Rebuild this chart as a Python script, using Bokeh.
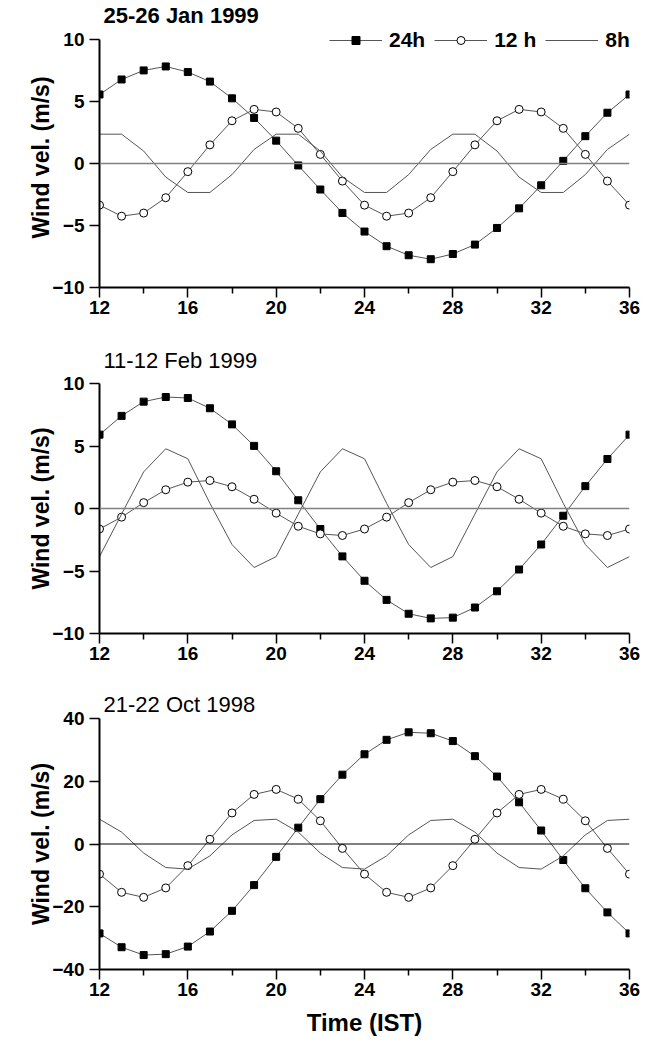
from bokeh.plotting import figure
from bokeh.layouts import column
from bokeh.models import Range1d, FixedTicker, Span, Legend, LegendItem
from bokeh.embed import file_html
from bokeh.resources import INLINE

hours = list(range(12, 37))

jan_title = "25-26 Jan 1999"
jan_24h = [5.56, 6.77, 7.50, 7.82, 7.37, 6.60, 5.25, 3.67, 1.84, -0.16, -2.10, -3.99, -5.49,
           -6.67, -7.40, -7.72, -7.30, -6.54, -5.20, -3.62, -1.76, 0.21, 2.20, 4.09, 5.56]
jan_12h = [-3.36, -4.25, -4.00, -2.76, -0.66, 1.50, 3.44, 4.36, 4.15, 2.83, 0.73, -1.42, -3.36,
           -4.25, -4.00, -2.76, -0.66, 1.50, 3.44, 4.36, 4.15, 2.83, 0.73, -1.42, -3.36]
jan_8h = [2.36, 2.36, 1.00, -1.10, -2.34, -2.34, -0.90, 1.13, 2.36, 2.36, 1.00, -1.10, -2.34,
          -2.34, -0.90, 1.13, 2.36, 2.36, 1.00, -1.10, -2.34, -2.34, -0.90, 1.13, 2.36]

feb_title = "11-12 Feb 1999"
feb_24h = [5.91, 7.41, 8.55, 8.92, 8.84, 8.02, 6.73, 5.01, 2.98, 0.66, -1.64, -3.83, -5.78,
           -7.31, -8.42, -8.79, -8.73, -7.92, -6.62, -4.88, -2.88, -0.58, 1.79, 3.96, 5.91]
feb_12h = [-1.64, -0.69, 0.47, 1.50, 2.11, 2.24, 1.74, 0.74, -0.37, -1.42, -2.03, -2.16, -1.64,
           -0.69, 0.47, 1.50, 2.11, 2.24, 1.74, 0.74, -0.37, -1.42, -2.03, -2.16, -1.64]
feb_8h = [-3.85, -0.45, 2.93, 4.78, 3.98, 0.42, -2.88, -4.72, -3.85, -0.45, 2.93, 4.78, 3.98,
          0.42, -2.88, -4.72, -3.85, -0.45, 2.93, 4.78, 3.98, 0.42, -2.88, -4.72, -3.85]

oct_title = "21-22 Oct 1998"
oct_24h = [-28.5, -32.9, -35.4, -35.1, -32.7, -27.9, -21.3, -13.1, -4.1, 5.2, 14.3, 22.1, 28.6,
           33.2, 35.6, 35.3, 32.8, 28.0, 21.5, 13.3, 4.3, -5.1, -14.1, -21.8, -28.5]
oct_12h = [-9.6, -15.4, -17.0, -14.0, -6.9, 1.5, 9.9, 15.8, 17.4, 14.3, 7.4, -1.4, -9.6,
           -15.4, -17.0, -14.0, -6.9, 1.5, 9.9, 15.8, 17.4, 14.3, 7.4, -1.4, -9.6]
oct_8h = [7.9, 3.8, -2.9, -7.5, -8.0, -3.8, 2.9, 7.5, 7.9, 3.8, -2.9, -7.5, -8.0,
          -3.8, 2.9, 7.5, 7.9, 3.8, -2.9, -7.5, -8.0, -3.8, 2.9, 7.5, 7.9]

x_ticks = [12, 16, 20, 24, 28, 32, 36]
x_minor = [14, 18, 22, 26, 30, 34]
series_labels = ["24h", "12 h", "8h"]

FONT = "Liberation Sans"
LINE_COL = "#555555"


def make_panel(title, s24, s12, s8, yr, ytop, yticks, height, top, bottom, title_bold,
               title_standoff, zero_col, zero_w, legend=False, xlabel=None):
    p = figure(width=643, height=height, output_backend="svg", toolbar_location=None,
               x_range=Range1d(12, 36), y_range=Range1d(yr[0], ytop),
               min_border_left=99, min_border_right=14,
               min_border_top=top, min_border_bottom=bottom)
    p.outline_line_color = None
    p.grid.visible = False
    p.background_fill_color = "white"
    p.border_fill_color = "white"

    p.title.text = title
    p.title.text_font = FONT
    p.title.text_font_size = "22px"
    p.title.text_color = "black"
    p.title.text_font_style = "bold" if title_bold else "normal"
    p.title.align = "left"
    p.title.offset = 4
    p.title.standoff = title_standoff

    p.add_layout(Span(location=0, dimension="width", line_color=zero_col, line_width=zero_w))

    l24 = p.line(hours, s24, line_color=LINE_COL, line_width=1)
    m24 = p.scatter(hours, s24, marker="square", size=7, fill_color="black", line_color="black")
    l12 = p.line(hours, s12, line_color=LINE_COL, line_width=1)
    m12 = p.scatter(hours, s12, marker="circle", size=8, fill_color="white", line_color="black",
                    line_width=1)
    l8 = p.line(hours, s8, line_color=LINE_COL, line_width=1)

    if legend:
        lg = Legend(items=[LegendItem(label=series_labels[0], renderers=[l24, m24]),
                           LegendItem(label=series_labels[1], renderers=[l12, m12]),
                           LegendItem(label=series_labels[2], renderers=[l8])],
                    orientation="horizontal", location=(230, 235),
                    glyph_width=53, glyph_height=20, label_height=20,
                    label_standoff=7, spacing=9, padding=0, margin=0,
                    border_line_color=None, background_fill_alpha=0,
                    label_text_font=FONT, label_text_font_size="21px",
                    label_text_font_style="bold", label_text_color="black")
        p.add_layout(lg)

    xa = p.xaxis[0]
    xa.ticker = FixedTicker(ticks=x_ticks, minor_ticks=x_minor)
    ya = p.yaxis[0]
    ya.ticker = FixedTicker(ticks=yticks, minor_ticks=[])
    ya.bounds = (yr[0], yr[1])
    for ax in (xa, ya):
        ax.axis_line_width = 2
        ax.axis_line_color = "black"
        ax.major_tick_line_width = 1.5
        ax.minor_tick_line_width = 1.5
        ax.major_tick_in = 0
        ax.minor_tick_in = 0
        ax.major_tick_out = 10
        ax.minor_tick_out = 6
        ax.major_label_text_font = FONT
        ax.major_label_text_font_size = "19px"
        ax.major_label_text_font_style = "bold"
        ax.major_label_text_color = "black"
    xa.major_label_standoff = 3
    ya.major_label_standoff = 5
    ya.axis_label = "Wind vel. (m/s)"
    ya.axis_label_text_font = FONT
    ya.axis_label_text_font_size = "23px"
    ya.axis_label_text_font_style = "bold"
    ya.axis_label_text_color = "black"
    ya.axis_label_standoff = -5
    if xlabel:
        xa.axis_label = xlabel
        xa.axis_label_text_font = FONT
        xa.axis_label_text_font_size = "24px"
        xa.axis_label_text_font_style = "bold"
        xa.axis_label_text_color = "black"
        xa.axis_label_standoff = 10
    return p


p1 = make_panel(jan_title, jan_24h, jan_12h, jan_8h, (-10, 10), 10.96, [-10, -5, 0, 5, 10],
                335, 26, 48, True, 0, "#808080", 1.5, legend=True)
p2 = make_panel(feb_title, feb_24h, feb_12h, feb_8h, (-10, 10), 10, [-10, -5, 0, 5, 10],
                340, 47, 42, False, 21, "#808080", 1.5)
p3 = make_panel(oct_title, oct_24h, oct_12h, oct_8h, (-40, 40), 40, [-40, -20, 0, 20, 40],
                367, 43, 73, False, 4, "black", 1, xlabel="Time (IST)")

layout = column(p1, p2, p3, spacing=0)
open("out.html", "w").write(file_html(layout, INLINE))
